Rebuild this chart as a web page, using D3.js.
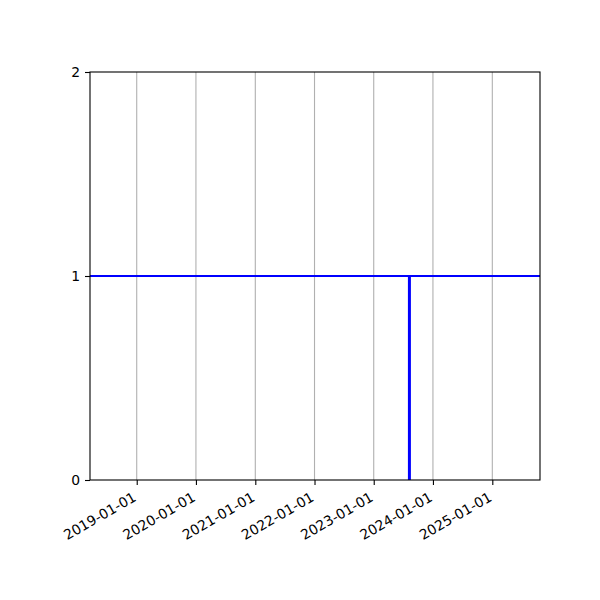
<!DOCTYPE html>
<html>
<head>
<meta charset="utf-8">
<script src="https://cdn.jsdelivr.net/npm/d3@7"></script>
<style>
  body { margin: 0; background: #fff; }
  text { font-family: "DejaVu Sans", sans-serif; font-size: 13.9px; fill: #000; }
</style>
</head>
<body>
<div id="chart"></div>
<script>
  // data
  var xRange = ['2018-03-19', '2025-10-22'];   // visible date span
  var yRange = [0, 2];
  var yTicks = [0, 1, 2];
  var xTicks = ['2019-01-01', '2020-01-01', '2021-01-01', '2022-01-01',
                '2023-01-01', '2024-01-01', '2025-01-01'];
  var levelValue = [1];                        // horizontal line
  var markerDates = ['2023-08-09'];            // vertical line
  var markerSpan = [0, 1];

  var parse = d3.utcParse('%Y-%m-%d');
  var fmt = d3.utcFormat('%Y-%m-%d');

  var width = 600, height = 600;
  var margin = { top: 72, right: 60, bottom: 120, left: 90 };
  var innerW = width - margin.left - margin.right;
  var innerH = height - margin.top - margin.bottom;
  var fontSize = '13.9px';

  var svg = d3.select('#chart').append('svg')
    .attr('width', width)
    .attr('height', height);

  var g = svg.append('g')
    .attr('transform', 'translate(' + margin.left + ',' + margin.top + ')');

  var x = d3.scaleUtc()
    .domain(xRange.map(parse))
    .range([0, innerW]);
  var y = d3.scaleLinear()
    .domain(yRange)
    .range([innerH, 0]);

  // vertical grid
  g.append('g')
    .selectAll('line')
    .data(xTicks.map(parse))
    .enter()
    .append('line')
    .attr('x1', function (d) { return x(d); })
    .attr('x2', function (d) { return x(d); })
    .attr('y1', 0)
    .attr('y2', innerH)
    .attr('stroke', '#b0b0b0')
    .attr('stroke-width', 1.1);

  // horizontal level line
  g.append('g')
    .selectAll('line')
    .data(levelValue)
    .enter()
    .append('line')
    .attr('x1', 0)
    .attr('x2', innerW)
    .attr('y1', function (d) { return y(d); })
    .attr('y2', function (d) { return y(d); })
    .attr('stroke', '#0000ff')
    .attr('stroke-width', 2);

  // vertical marker
  g.append('g')
    .selectAll('line')
    .data(markerDates.map(parse))
    .enter()
    .append('line')
    .attr('x1', function (d) { return x(d); })
    .attr('x2', function (d) { return x(d); })
    .attr('y1', y(markerSpan[0]))
    .attr('y2', y(markerSpan[1]))
    .attr('stroke', '#0000ff')
    .attr('stroke-width', 3);

  // frame
  g.append('rect')
    .attr('width', innerW)
    .attr('height', innerH)
    .attr('fill', 'none')
    .attr('stroke', '#000')
    .attr('stroke-width', 1.1);

  // axes
  var xAxis = d3.axisBottom(x)
    .tickValues(xTicks.map(parse))
    .tickFormat(fmt)
    .tickSize(5)
    .tickPadding(5);
  var gx = g.append('g')
    .attr('transform', 'translate(0,' + innerH + ')')
    .call(xAxis);
  gx.select('.domain').remove();
  gx.selectAll('.tick line').attr('stroke', '#000').attr('stroke-width', 1.1);
  gx.selectAll('.tick text')
    .attr('text-anchor', 'end')
    .attr('dy', null)
    .attr('y', 0)
    .attr('transform', 'translate(0,20) rotate(-30)')
    .style('font-family', '"DejaVu Sans", sans-serif')
    .style('font-size', fontSize);

  var yAxis = d3.axisLeft(y)
    .tickValues(yTicks)
    .tickFormat(d3.format('d'))
    .tickSize(5)
    .tickPadding(5);
  var gy = g.append('g').call(yAxis);
  gy.select('.domain').remove();
  gy.selectAll('.tick line').attr('stroke', '#000').attr('stroke-width', 1.1);
  gy.selectAll('.tick text')
    .style('font-family', '"DejaVu Sans", sans-serif')
    .style('font-size', fontSize);
</script>
</body>
</html>
